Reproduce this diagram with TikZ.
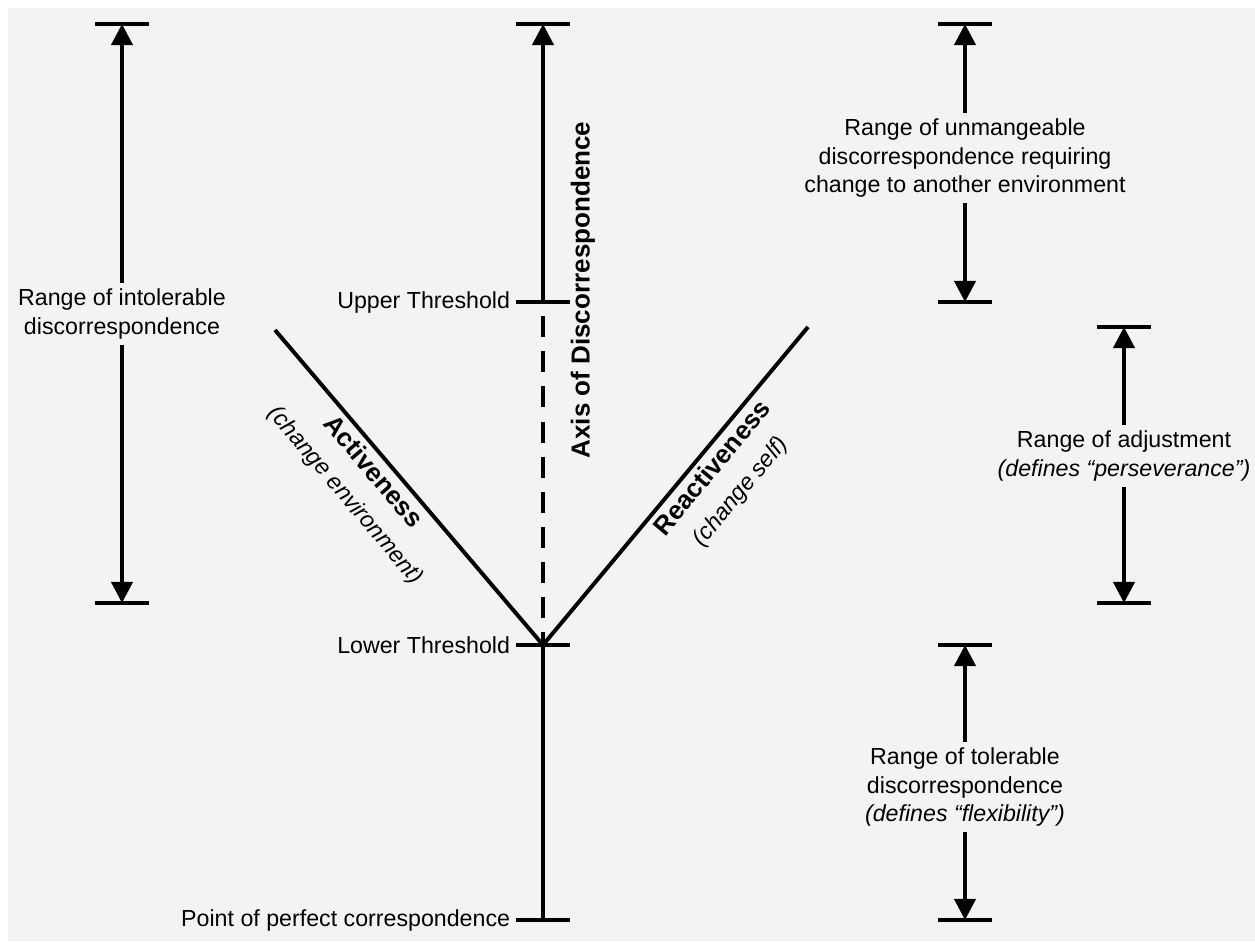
\documentclass[tikz,border=0pt]{standalone}
\usepackage{fontspec}
\setmainfont{Liberation Sans}
\usetikzlibrary{arrows.meta,calc}
\definecolor{paper}{HTML}{F3F3F3}

\begin{document}
\begin{tikzpicture}[
  x=0.025cm, y=-0.025cm,
  lbl/.style={font=\fontsize{16.5}{20}\selectfont, align=center, inner sep=4pt},
  axislbl/.style={font=\fontsize{18.5}{22}\selectfont\bfseries},
  armlbl/.style={sloped, below, align=center, inner sep=3pt, font=\fontsize{16.5}{25}\selectfont},
  arr/.style={-{Triangle[length=15pt,width=15pt]}, line width=2.8pt},
  line/.style={line width=2.8pt},
  bar/.style={line width=3pt}
]
  \useasboundingbox (0,0) rectangle (1255,941);
  \fill[paper] (8,8) rectangle (1255,941);

  % axis of discorrespondence
  \coordinate (top) at (543,24);
  \coordinate (up) at (543,302);
  \coordinate (low) at (543,645);
  \coordinate (zero) at (543,920);
  \foreach \p in {top,up,low,zero}
    \draw[bar] ($(\p)+(-27,0)$) -- ($(\p)+(27,0)$);
  \draw[arr] (up) -- (top);
  \draw[line, dash pattern=on 15pt off 10pt, dash phase=15pt] (up) -- (low);
  \draw[line] (low) -- (zero);

  \node[lbl, anchor=east] (uptxt) at ($(up)+(-27,0)$) {Upper Threshold};
  \node[lbl, anchor=east] (lowtxt) at ($(low)+(-27,0)$) {Lower Threshold};
  \node[lbl, anchor=east] (zerotxt) at ($(zero)+(-27,0)$) {Point of perfect correspondence};
  \node[axislbl, rotate=90] (axis) at (583,290) {Axis of Discorrespondence};

  % the two arms
  \coordinate (act) at (275,330);
  \coordinate (react) at (808,327);
  \draw[line] (act) -- (low)
    node[armlbl, pos=0.415] (acttxt)
    {{\fontsize{18.5}{21}\selectfont\bfseries Activeness}\\\itshape (change environment)};
  \draw[line] (low) -- (react)
    node[armlbl, pos=0.59] (reacttxt)
    {{\fontsize{18.5}{21}\selectfont\bfseries Reactiveness}\\\itshape (change self)};

  % range of intolerable discorrespondence
  \coordinate (i1) at (122,24);
  \coordinate (i2) at (122,603);
  \node[lbl] (intol) at (122,314) {Range of intolerable\\discorrespondence};
  \draw[arr] (intol) -- (i1);
  \draw[arr] (intol) -- (i2);

  % unmanageable range
  \coordinate (u1) at (965,24);
  \coordinate (u2) at (965,302);
  \node[lbl] (unman) at (965,158) {Range of unmangeable\\discorrespondence requiring\\change to another environment};
  \draw[arr] (unman) -- (u1);
  \draw[arr] (unman) -- (u2);

  % range of adjustment
  \coordinate (a1) at (1124,327);
  \coordinate (a2) at (1124,603);
  \node[lbl] (adj) at (1124,456) {Range of adjustment\\\textit{(defines “perseverance”)}};
  \draw[arr] (adj) -- (a1);
  \draw[arr] (adj) -- (a2);

  % tolerable range
  \coordinate (t1) at (965,645);
  \coordinate (t2) at (965,920);
  \node[lbl] (tol) at (965,787) {Range of tolerable\\discorrespondence\\\textit{(defines “flexibility”)}};
  \draw[arr] (tol) -- (t1);
  \draw[arr] (tol) -- (t2);

  \foreach \p in {i1,i2,u1,u2,a1,a2,t1,t2}
    \draw[bar] ($(\p)+(-27,0)$) -- ($(\p)+(27,0)$);
\end{tikzpicture}
\end{document}
